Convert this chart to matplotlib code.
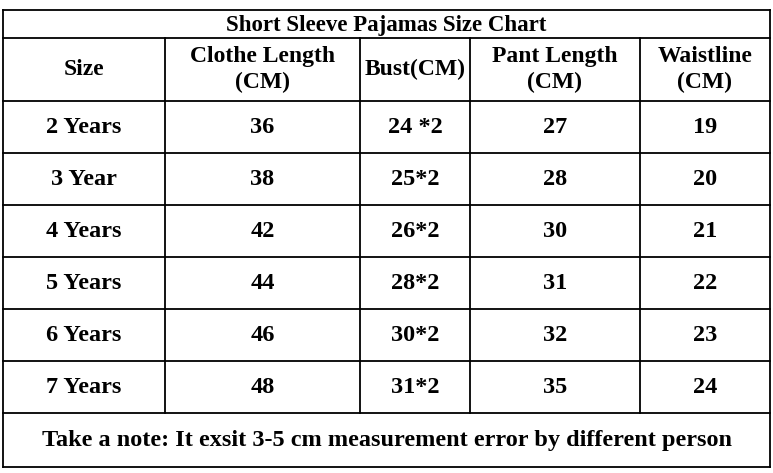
import matplotlib
matplotlib.use("Agg")
import matplotlib.pyplot as plt

title = "Short Sleeve Pajamas Size Chart"
headers = ["Size", "Clothe Length\n(CM)", "Bust(CM)", "Pant Length\n(CM)", "Waistline\n(CM)"]
sizes = ["2 Years", "3 Year", "4 Years", "5 Years", "6 Years", "7 Years"]
clothe_length = ["36", "38", "42", "44", "46", "48"]
bust = ["24 *2", "25*2", "26*2", "28*2", "30*2", "31*2"]
pant_length = ["27", "28", "30", "31", "32", "35"]
waistline = ["19", "20", "21", "22", "23", "24"]
note = "Take a note: It exsit 3-5 cm measurement error by different person"

W, H = 773, 473
fig = plt.figure(figsize=(W/100, H/100), dpi=100)
ax = fig.add_axes([0, 0, 1, 1])
ax.set_xlim(0, W); ax.set_ylim(H, 0); ax.axis("off")

xs = [3, 165, 360, 470, 640, 770]
ys = [10, 38, 101, 153, 205, 257, 309, 361, 413, 467]
lw = 1.3
font = dict(family="Liberation Serif", weight="bold", color="black")

for y in ys:
    ax.plot([xs[0], xs[-1]], [y, y], color="black", lw=lw)
ax.plot([xs[0], xs[0]], [ys[0], ys[-1]], color="black", lw=lw)
ax.plot([xs[-1], xs[-1]], [ys[0], ys[-1]], color="black", lw=lw)
for x in xs[1:-1]:
    ax.plot([x, x], [ys[1], ys[-2]], color="black", lw=lw)

ax.text((xs[0]+xs[-1])/2, (ys[0]+ys[1])/2 + 1, title, ha="center", va="center", fontsize=16.5, **font)
for i, h in enumerate(headers):
    ax.text((xs[i]+xs[i+1])/2, (ys[1]+ys[2])/2, h, ha="center", va="center", fontsize=17,
            linespacing=1.25, **font)
cols = [sizes, clothe_length, bust, pant_length, waistline]
for r in range(len(sizes)):
    yc = (ys[2+r]+ys[3+r])/2
    for c, col in enumerate(cols):
        ax.text((xs[c]+xs[c+1])/2, yc, col[r], ha="center", va="center", fontsize=17.5, **font)
ax.text((xs[0]+xs[-1])/2, (ys[-2]+ys[-1])/2, note, ha="center", va="center", fontsize=17.5, **font)

fig.savefig("out.png", dpi=100, facecolor="white")
